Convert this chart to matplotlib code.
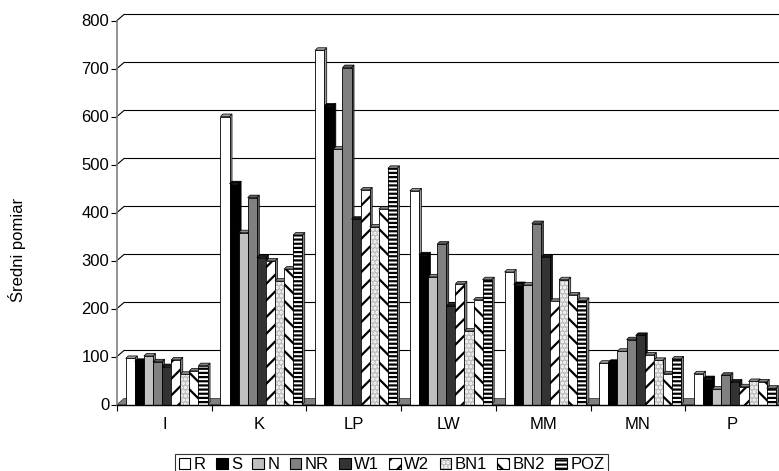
import matplotlib
matplotlib.use('Agg')
import matplotlib.pyplot as plt
from matplotlib.patches import Patch, Polygon
from matplotlib.ticker import FixedLocator, NullFormatter, FixedFormatter

plt.rcParams['font.family'] = ['Liberation Sans', 'DejaVu Sans']
plt.rcParams['hatch.linewidth'] = 1.6

# średnie pomiary w kategoriach
CATS = ['I', 'K', 'LP', 'LW', 'MM', 'MN', 'P']
R   = [96, 600, 738, 445, 276, 86, 64]
S   = [90, 460, 622, 312, 250, 88, 54]
N   = [101, 358, 532, 266, 249, 111, 32]
NR  = [89, 431, 702, 334, 377, 135, 61]
W1  = [79, 306, 386, 205, 307, 144, 47]
W2  = [93, 299, 447, 251, 215, 103, 37]
BN1 = [63, 257, 370, 153, 260, 92, 48]
BN2 = [70, 282, 407, 218, 228, 64, 47]
POZ = [81, 353, 492, 260, 217, 95, 34]
SERIES = ['R', 'S', 'N', 'NR', 'W1', 'W2', 'BN1', 'BN2', 'POZ']
VALUES = [R, S, N, NR, W1, W2, BN1, BN2, POZ]
YTICKS = [0, 100, 200, 300, 400, 500, 600, 700, 800]

# (kolor ściany, kreskowanie, kolor kreskowania, kolor boku/góry)
STYLE = {
    'R':   ('white',   None,   None,      '#9A9A9A'),
    'S':   ('black',   None,   None,      '#000000'),
    'N':   ('#C0C0C0', None,   None,      '#8C8C8C'),
    'NR':  ('#808080', None,   None,      '#5A5A5A'),
    'W1':  ('#333333', None,   None,      '#1A1A1A'),
    'W2':  ('white',   '//',   'black',   '#808080'),
    'BN1': ('#BDBDBD', '....', 'white',   '#8C8C8C'),
    'BN2': ('white',   '\\\\', 'black',   '#808080'),
    'POZ': ('white',   '----', 'black',   '#808080'),
}

W, H = 779, 471
fig = plt.figure(figsize=(W / 100, H / 100), dpi=100)
AX_L, AX_B, AX_W, AX_H = 117, 404.5, 663, 384   # piksele
ax = fig.add_axes([AX_L / W, (H - AX_B) / H, AX_W / W, AX_H / H])
ncat = len(CATS)
ax.set_xlim(0, ncat)
ax.set_ylim(0, 800)
pxx = AX_W / ncat      # px na jednostkę x
pxy = AX_H / 800       # px na jednostkę y

# głębokość ściany tylnej i słupków (px -> jednostki danych)
wx, wy = 7 / pxx, 6 / pxy
dx, dy = 2.5 / pxx, 2.5 / pxy

# podłoga
ax.add_patch(Polygon([(0, 0), (ncat, 0), (ncat + wx, wy), (wx, wy)],
                     closed=True, facecolor='#808080', edgecolor='#404040',
                     lw=0.6, zorder=0.5, clip_on=False))
# linie siatki na ścianach
for v in YTICKS[1:]:
    ax.plot([0, wx, ncat + wx], [v, v + wy, v + wy], color='black', lw=0.8,
            zorder=0.6, clip_on=False)

bw = 0.096
start = 0.092
for j, (name, vals) in enumerate(zip(SERIES, VALUES)):
    face, hatch, hcol, dark = STYLE[name]
    z = 2 + j * 0.1
    xs = [k + start + j * bw for k in range(ncat)]
    for x0, v in zip(xs, vals):
        x1 = x0 + bw
        ax.add_patch(Polygon([(x1, 0), (x1 + dx, dy), (x1 + dx, v + dy), (x1, v)],
                             closed=True, facecolor=dark, edgecolor='black',
                             lw=0.5, zorder=z, clip_on=False))
        ax.add_patch(Polygon([(x0, v), (x0 + dx, v + dy), (x1 + dx, v + dy), (x1, v)],
                             closed=True, facecolor=dark, edgecolor='black',
                             lw=0.5, zorder=z, clip_on=False))
    if hatch:
        ax.bar(xs, vals, width=bw, align='edge', color=face, hatch=hatch,
               edgecolor=hcol, lw=0, zorder=z + 0.05)
        ax.bar(xs, vals, width=bw, align='edge', fill=False,
               edgecolor='black', lw=0.6, zorder=z + 0.06)
    else:
        ax.bar(xs, vals, width=bw, align='edge', color=face,
               edgecolor='black', lw=0.6, zorder=z + 0.05)

for sp in ['top', 'right']:
    ax.spines[sp].set_visible(False)
ax.spines['left'].set_color('#808080')
ax.spines['left'].set_linewidth(1.2)
ax.spines['bottom'].set_color('black')
ax.spines['bottom'].set_linewidth(1.0)
ax.spines['bottom'].set_zorder(3)

ax.set_yticks(YTICKS)
ax.tick_params(axis='y', direction='out', length=4.5, width=0.8,
               labelsize=12, pad=1.0, color='black')
ax.xaxis.set_major_locator(FixedLocator(range(ncat + 1)))
ax.xaxis.set_major_formatter(NullFormatter())
ax.xaxis.set_minor_locator(FixedLocator([k + 0.5 for k in range(ncat)]))
ax.xaxis.set_minor_formatter(FixedFormatter(CATS))
ax.tick_params(axis='x', which='major', direction='out', length=4.5, width=0.8)
ax.tick_params(axis='x', which='minor', length=0, labelsize=12, pad=9)
ax.patch.set_visible(False)

fig.text(17 / W, 1 - 250 / H, 'Średni pomiar', rotation=90,
         ha='center', va='center', fontsize=12)

handles = []
for name in SERIES:
    face, hatch, hcol, dark = STYLE[name]
    if hatch:
        handles.append((Patch(facecolor=face, hatch=hatch, edgecolor=hcol, lw=0),
                        Patch(fill=False, edgecolor='black', lw=0.8)))
    else:
        handles.append(Patch(facecolor=face, edgecolor='black', lw=0.8))
leg = fig.legend(handles, SERIES, loc='upper center',
                 bbox_to_anchor=(391.5 / W, 1 - 454 / H), ncol=len(SERIES),
                 fontsize=12, frameon=True, fancybox=False, shadow=False,
                 handlelength=0.7, handleheight=0.7, handletextpad=0.2,
                 columnspacing=0.62, borderpad=0.2, borderaxespad=0)
leg.get_frame().set_edgecolor('black')
leg.get_frame().set_linewidth(0.8)

fig.savefig('out.png', dpi=100)
